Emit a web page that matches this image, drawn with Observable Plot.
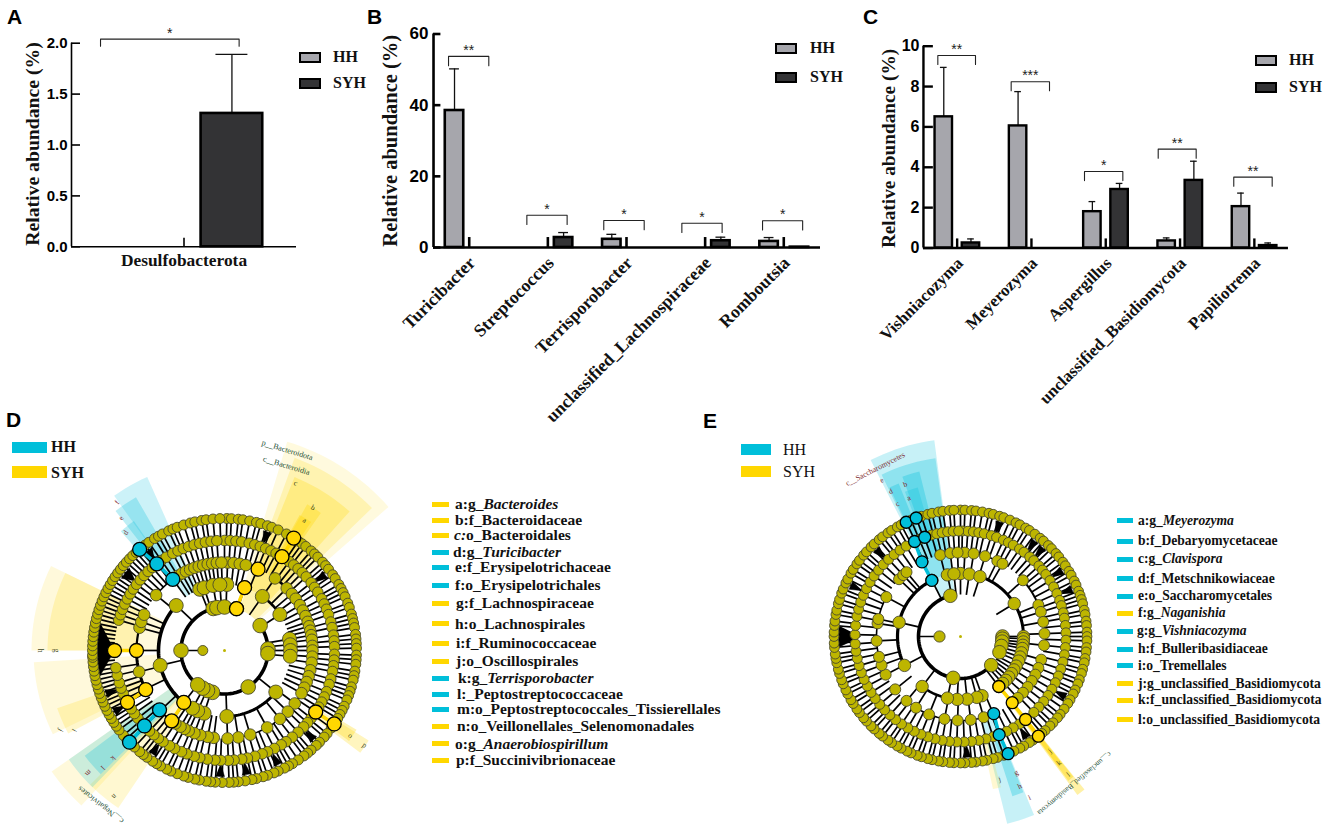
<!DOCTYPE html>
<html><head><meta charset="utf-8">
<script src="https://cdn.jsdelivr.net/npm/d3@7/dist/d3.min.js"></script>
<script src="https://cdn.jsdelivr.net/npm/@observablehq/plot@0.6/dist/plot.umd.min.js"></script>
<style>
html,body{margin:0;background:#fff}
#page{position:relative;width:1325px;height:828px;overflow:hidden;background:#fff}
#page svg{position:absolute;background:none}
.abs{position:absolute;white-space:nowrap;line-height:1}
.letter{font:bold 21px "Liberation Sans",Arial,sans-serif;color:#000}
.lg{font:bold 16px "Liberation Serif",serif;color:#111;transform:translateY(-50%)}
.sw{position:absolute;box-sizing:border-box}
.row{font:bold 15.5px "Liberation Serif",serif;color:#111;transform:translateY(-50%)}
.rowE{font:bold 13.6px "Liberation Serif",serif;color:#111;transform:translateY(-50%)}
</style></head><body><div id="page"></div>
<script>
// ---------- bar panel data ----------
const catA=["Desulfobacterota"];
const hhA=[0], hhErrA=[0], syhA=[1.31], syhErrA=[1.89];
const catB=["Turicibacter","Streptococcus","Terrisporobacter","unclassified_Lachnospiraceae","Romboutsia"];
const hhB=[38.5,0,2.3,0,1.7], hhErrB=[50.2,0,3.7,0,2.8];
const syhB=[0,2.8,0,1.9,0.1], syhErrB=[0,4.2,0,2.9,0];
const catC=["Vishniacozyma","Meyerozyma","Aspergillus","unclassified_Basidiomycota","Papiliotrema"];
const hhC=[6.5,6.05,1.8,0.35,2.05], hhErrC=[8.95,7.75,2.3,0.5,2.72];
const syhC=[0.25,0,2.9,3.35,0.12], syhErrC=[0.45,0,3.2,4.3,0.25];
const sigA=[["*",-0.371,0.245,2.04]];
const sigB=[["**",-0.263,0.249,53.7],["*",0.733,1.245,9.08],["*",1.711,2.225,7.6],["*",2.704,3.216,6.8],["*",3.73,4.24,7.5]];
const sigC=[["**",-0.26,0.247,9.54],["***",0.727,1.243,8.24],["*",1.714,2.23,3.79],["**",2.706,3.217,4.9],["**",3.723,4.24,3.51]];
const ticksA=[0,0.5,1,1.5,2], ticksB=[0,20,40,60], ticksC=[0,2,4,6,8,10];

// ---------- cladogram D data (angles in degrees clockwise from north) ----------
const ringsD=[21.7,43.5,66,88,110,132];
const d1=[270];
const d2=[16,55,88,94,147,196,203,210,218,270,345,350,360];
const d3v=[2,17.7,35,57,80,85,90,95,129,178,198,204,209,218,257,313,338,342,350,356];
const d4=[2,6,10,14,22,35,45,50,54,59,63,67,71,74,77,80,83,87,90,94,98,103,107,111,115,119,127,134,141,151,163,171,178,187,191,196,200,204,207,210,214,217,227,244,256,270,285,289,294,309,324,328,331,334,337,340,343,346,349,352,355,358];
const d5=[0,3,6,9,13,16,19,22,25,28,31.5,36,39,42,45,48,52,55,58,62,65,68,71,75,78,82,85,88,92,95,98,101,105,108,112,115,118,121,124,128,131,134,138,142,146,149,153,157,160,164,168,171,175,178,182,185,189,193,196,200,203,207,210,214,217,220,223,226.7,229,232,235,238,241.9,244,247,250,253,257,261,270,286,289,292,295,298,301,304,307,310,313,316,319,322,325,328,332,335,338,341,344,347,350,353,356];
const d6=[1,3,6,8,11,14,16,19,21,24,28,31.6,34,36,38,41,43,45,48,50,52,55,57,60,62,64,66,69,71,74,76,78,80,83,85,87,89,92,94,96,99,101,103,106,108,110,112,115,117,119,121,123.8,126,129,131,134,136,139,141,143,146,149,151,153,156,158,161,163,166,168,171,174,176,178,181,184,186,188,191,193,196,198,201,204,206,209,211,213,216,218,220,223,226,228,230,233,235,237,239,241,243,245,247,249,251,253,255,257,259,261,263,265,267,268,270,272,274,276,278,280,282,284,286,288,290,292,294,296,298,300,302,304,306,308,310,312,314,316,318,320,323,325,328,330,332,335,337,339,342,345,347,350,352,355,358];
const hhNodesD=[[6,320],[5,322],[4,324],[4,227.6],[5,226.7],[6,226]];
const syhNodesD=[[6,31.6],[5,31.5],[4,22.4],[3,17.7],[2,16],[5,270],[4,270],[4,243.6],[5,241.9],[3,218.1],[4,216.9],[6,123.8],[5,124]];
const arcsD=[[2,55,376,3.6],[3,218,313,3.6],[3,129,178,3],[3,35,57,2.6],[3,80,95,1.5],[4,35,63,2.6],[4,71,98,1.5],[4,107,127,2.6],[4,141,178,1.5],[4,244,270,3],[4,270,294,2.2],[4,217,228,2],[4,336,368,1.5],[4,309,324,1.6],[3,338,362,1.6],[2,196,210,1.5]];
const wedgesD=[[270,258,283,110,128],[308,305,311,113,126],[322,320,325,113,126],[20,18,22,113,126],[53,51,55,113,126],[250,248,252,113,126],[241,239,243,113,126],[215,213,217,113,126],[182,180,184,113,126],[170,168,172,113,126],[155,153,157,113,126],[135,133,137,113,126]];
const sectorsD=[["SYH",43.5,218,16.7,48.8,0.13],["SYH",43.5,205,20,46,0.2],["SYH",66,187,22,42,0.26],["SYH",88,168,29.5,35,0.3],["SYH",110,155,29,34,0.35],
["HH",66,190,324.5,336,0.2],["HH",88,177,322,330,0.26],["HH",110,158,319,325,0.26],
["SYH",66,193,270,296,0.14],["SYH",88,177,270,296,0.2],["SYH",66,191,244,266.5,0.14],["SYH",88,177,242,251,0.2],
["SYH",66,211,222.7,235,0.14],["SYH",66,190,214,225,0.18],["HH",66,190,224,235,0.2],["HH",88,175,225,233,0.26],
["SYH",110,170,122,127,0.25],["SYH",132,154,121,126,0.3]];
const labelsD=[["p__Bacteroidota",210,17.4,17,"#1d4f35",8],["c__Bacteroidia",195,18.5,17,"#1d4f35",8],["c",182,23,20,"#3f4a1f",7.5],["b",168,31.8,30,"#3f4a1f",7.5],["a",153,31.6,30,"#3f4a1f",7.5],
["f",183,324,-55,"#7a1f2b",7.5],["e",168,322,-55,"#7a1f2b",7.5],["d",154,320,-55,"#7a1f2b",7.5],["h",184,270,90,"#3f4a1f",7.5],["g",168,270,90,"#3f4a1f",7.5],
["j",182,244,120,"#3f4a1f",7.5],["i",170,242,120,"#3f4a1f",7.5],["c__Negativicutes",198,218.7,218,"#1d4f35",8],["n",183,217,135,"#3f4a1f",7.5],["m",183,228,135,"#7a1f2b",7.5],["l",169,226,135,"#7a1f2b",7.5],["k",155,226,135,"#7a1f2b",7.5],["o",152,124,35,"#3f4a1f",7.5],["p",169,124,35,"#3f4a1f",7.5]];
const namesD=["a:g_<i>Bacteroides</i>","b:f_Bacteroidaceae","<i>c:</i>o_Bacteroidales","d:g_<i>Turicibacter</i>","e:f_Erysipelotrichaceae","f:o_Erysipelotrichales","g:f_Lachnospiraceae","h:o_Lachnospirales","i:f_Ruminococcaceae","j:o_Oscillospirales","k:g_<i>Terrisporobacter</i>","l:_Peptostreptococcaceae","m:o_Peptostreptococcales_Tissierellales","n:o_Veillonellales_Selenomonadales","o:g_<i>Anaerobiospirillum</i>","p:f_Succinivibrionaceae"];
const groupD=["SYH","SYH","SYH","HH","HH","HH","SYH","SYH","SYH","SYH","HH","HH","HH","SYH","SYH","SYH"];
const rowYD=[504,520,535,552,567.3,585.3,603.3,623.7,643.3,661.3,678.3,694.3,709.3,726,743.7,760];
const rowXD=[455,455,454,453,455,455,456,455,456,456,458,457,457,457,455,456];

// ---------- cladogram E data ----------
const ringsE=[21,42,63,84,105.5,126.5];
const e1=[270];
const e2=[90,93,97,103,112,133,190,346];
const e3=[0,8,18,58.5,90,92,95,98,101,105,109,113,118,122,126,130,134,138,142.5,160,165,174,183,192,217.5,242.7,283,333,348,354];
const e4=[3,9,17,26,30,48,68,73,80,88,96,106,112,117,122,127,132,137,142,157,164,173,182,191,202,212,220,231,243,250,256,267,279,282,298,313,317,320,333,346,353,358];
const e5=[1,4,7,10,13,17,20,24,27,30,34,37,41,44,48,51,54,58,62,66,70,73,77,80,84,88,92,96,100,104,108,112,116,120,124,128,132,136,142,146,150,154,158.5,162,166,170,174,178,182,186,190,194,198,202,206,210,214,218,222,226,230,234,238,242,246,250,254,258,262,266,271,276,281,285,289,293,297,301,305,309,313,317,321,325,329,334,337,340,344,347,350,353,356,359];
const e6=[0,2,5,7,10,13,15,18,20,23,26,28,31,33,36,39,41,44,46,49,51,54,56,59,61,64,66,69,71,73,75,78,80,83,85,88,90,92,95,97,100,102,105,107,110,112,115,117,120,122,125,128,130,133,135,138,140,142,145,147,150,152,155,158,160,163,165,168,170,173,175,178,180,183,185,188,190,193,195,198,200,203,205,208,210,213,215,218,220,223,225,228,230,233,235,238,240,243,245,248,250,253,255,258,260,262,265,267,270,272,275,277,280,282,285,287,290,292,295,297,300,302,305,307,310,312,315,317,320,322,325,327,330,332,334.6,337,339.5,342,345,347,350,352,355,357];
const hhNodesE=[[3,332.9],[4,332.7],[5,334.2],[5,340.2],[6,334.6],[6,339.5],[4,156.7],[5,158.5],[6,157.9]];
const syhNodesE=[[3,142.5],[4,142],[5,141.9],[6,142]];
const arcsE=[[2,133,346,3.6],[3,242.7,333,3.2],[3,160,217.5,2.6],[3,18,88,3],[3,348,378,1.6],[4,243,298,1.6],[4,164,220,1.6],[4,47,68,2],[4,346,390,1.6],[4,313,320,1.5]];
const wedgesE=[[270,265,275,100,122],[295,293,297,108,121],[316,314,318,108,121],[177,175,179,108,121],[43,41,45,108,121],[57,55,59,108,121],[67,65,69,108,121],[120,118,122,108,121],[147,145,149,108,121],[19,17,21,108,121],[38,36,40,108,121]];
const sectorsE=[["HH",42,198,333,352.4,0.22],["HH",63,180,334,352,0.28],["HH",105,165,334.5,338,0.3],["HH",84,170,340,346,0.3],["HH",105,155,339,344,0.25],
["HH",84,193,157.6,166,0.22],["HH",105,168,158,162,0.3],["SYH",105,156,165,168,0.18],
["SYH",63,197,141,143.6,0.35],["SYH",84,180,141.2,143.2,0.4],["SYH",105,163,141.4,143,0.4]];
const labelsE=[["c__Saccharomycetes",188,333,-27,"#7a1f2b",7.8],["e",175,333.3,-25,"#7a1f2b",7.5],["d",161,334.3,-25,"#7a1f2b",7.5],["c",147,334.5,-25,"#7a1f2b",7.5],["b",162,340,-20,"#7a1f2b",7.5],["a",148,339.5,-20,"#7a1f2b",7.5],
["g",147,157.7,-25,"#7a1f2b",7.5],["h",161,158.4,-25,"#7a1f2b",7.5],["i",175,156.8,-25,"#7a1f2b",7.5],["j",148,164.7,-15,"#3f4a1f",7.5],["j",145,142,-40,"#3f4a1f",7.5],["k",160,142,-40,"#3f4a1f",7.5],["l",175,142,-40,"#3f4a1f",7.5],["c__unclassified_Basidiomycota",186,142.2,140,"#1d4f35",7.4]];
const namesE=["a:g_<i>Meyerozyma</i>","b:f_Debaryomycetaceae","c:g_<i>Clavispora</i>","d:f_Metschnikowiaceae","e:o_Saccharomycetales","f:g_<i>Naganishia</i>","g:g_<i>Vishniacozyma</i>","h:f_Bulleribasidiaceae","i:o_Tremellales","j:g_unclassified_Basidiomycota","k:f_unclassified_Basidiomycota","l:o_unclassified_Basidiomycota"];
const groupE=["HH","HH","HH","HH","HH","SYH","HH","HH","HH","SYH","SYH","SYH"];
const rowYE=[520.7,541,559.3,578.7,596,613.3,631,649,665.7,683.7,700,719.7];
const rowXE=[1138,1138,1138,1138,1138,1138,1137,1138,1138,1138,1138,1138];

// ---------- drawing ----------
const page=document.getElementById("page");
const CY="#00BFDA", YE="#FFD700", OL="#BDB500";
const SERIF="'Liberation Serif',serif", SANS="'Liberation Sans',sans-serif";
const seq=n=>Array.from({length:n},(_,i)=>i);
function place(el,l,t){el.style.left=l+"px";el.style.top=t+"px";page.appendChild(el);}
function html(cls,l,t,s){const e=document.createElement("div");e.className="abs "+cls;e.innerHTML=s;place(e,l,t);return e;}
function swatch(l,t,w,h,fill,border){const e=document.createElement("div");e.className="sw";e.style.cssText=`width:${w}px;height:${h}px;background:${fill};`+(border?`border:${border}px solid #000;`:"");place(e,l,t);}

function barPanel(o){
  const n=o.cat.length, idx=seq(n);
  const hhOff=o.hhOff, syOff=o.syOff, bw=o.bw/2, cap=o.cap/2;
  const bars=[];
  idx.forEach(i=>{
    if(o.hh[i]>0)bars.push({x:i+hhOff,v:o.hh[i],e:o.hhE[i],c:"#a6a6ac"});
    if(o.sy[i]>0)bars.push({x:i+syOff,v:o.sy[i],e:o.syE[i],c:"#333335"});
  });
  const ax=o.axis, y0=o.yDomain[0], ym=o.yDomain[1];
  const brk=[];o.sig.forEach((s,i)=>{brk.push({id:i,x:s[1],y:s[3]-o.tip},{id:i,x:s[1],y:s[3]},{id:i,x:s[2],y:s[3]},{id:i,x:s[2],y:s[3]-o.tip});});
  const withErr=bars.filter(d=>d.e>0);
  const svg=Plot.plot({
    width:o.boxW,height:o.boxH,style:{background:"none",overflow:"visible"},
    x:{domain:o.xDomain,range:o.xRange.map(v=>v-o.left),axis:null},
    y:{domain:o.yDomain,range:o.yRange,axis:null},
    color:{type:"identity"},
    marks:[
      Plot.ruleX(withErr,{x:"x",y1:"v",y2:"e",stroke:"#111",strokeWidth:1.3}),
      Plot.ruleY(withErr,{y:"e",x1:d=>d.x-cap,x2:d=>d.x+cap,stroke:"#111",strokeWidth:1.3}),
      Plot.rect(bars,{x1:d=>d.x-bw,x2:d=>d.x+bw,y1:0,y2:"v",fill:"c",stroke:"#000",strokeWidth:o.sw}),
      Plot.ruleX(idx,{x:d=>d,y1:0,y2:o.tick,stroke:"#000",strokeWidth:o.tw}),
      Plot.ruleY([y0],{x1:ax[0],x2:ax[1],stroke:"#000",strokeWidth:o.aw}),
      Plot.ruleX([ax[0]],{y1:y0,y2:ym,stroke:"#000",strokeWidth:o.aw}),
      Plot.ruleY(o.ticks,{x1:ax[0],x2:o.ytick,stroke:"#000",strokeWidth:o.aw}),
      Plot.text(o.ticks,{x:ax[0],y:d=>d,dx:-o.pad,textAnchor:"end",text:o.fmt,fontFamily:SANS,fontWeight:"bold",fontSize:o.tfs,fill:"#000"}),
      Plot.text(["Relative abundance (%)"],{x:ax[0],y:o.ylabY,dx:o.ylabDx,rotate:-90,fontFamily:SERIF,fontWeight:"bold",fontSize:o.ylfs,fill:"#111"}),
      Plot.line(brk,{x:"x",y:"y",z:"id",stroke:"#222",strokeWidth:1.1}),
      Plot.text(o.sig,{x:d=>(d[1]+d[2])/2,y:d=>d[3],dy:-6,text:d=>d[0],fontFamily:SANS,fontSize:14,fill:"#222"}),
      o.rot?Plot.text(idx,{x:d=>d,y:y0,text:d=>o.cat[d],rotate:-45,textAnchor:"end",dx:3,dy:12.5,fontFamily:SERIF,fontWeight:"bold",fontSize:o.xfs,fill:"#111"})
           :Plot.text(idx,{x:d=>d,y:y0,text:d=>o.cat[d],dy:14,fontFamily:SERIF,fontWeight:"bold",fontSize:o.xfs,fill:"#111"})
    ]});
  place(svg,o.left,0);
}
barPanel({cat:catA,hh:hhA,hhE:hhErrA,sy:syhA,syE:syhErrA,sig:sigA,ticks:ticksA,fmt:d=>d.toFixed(1),left:0,boxW:340,boxH:300,
  xDomain:[-.5,.5],xRange:[71,296],yDomain:[0,2],yRange:[246.3,42.7],axis:[-.5,.5],ytick:-.46,hhOff:-.2,syOff:.213,bw:.274,cap:.142,tip:.07,tick:.085,sw:2.6,tw:1.6,aw:1.6,pad:4,tfs:15,ylfs:19.7,ylabY:1.01,ylabDx:-39,xfs:17.4,rot:false});
barPanel({cat:catB,hh:hhB,hhE:hhErrB,sy:syhB,syE:syhErrB,sig:sigB,ticks:ticksB,fmt:d=>String(d),left:360,boxW:475,boxH:420,
  xDomain:[-.5,4.5],xRange:[429.4,822.6],yDomain:[0,60],yRange:[247,33.5],axis:[-.454,4.467],ytick:-.36,hhOff:-.187,syOff:.2,bw:.235,cap:.125,tip:2.6,tick:2.8,sw:2.6,tw:2.6,aw:2.6,pad:5,tfs:17,ylfs:20.5,ylabY:30,ylabDx:-43,xfs:17.7,rot:true});
barPanel({cat:catC,hh:hhC,hhE:hhErrC,sy:syhC,syE:syhErrC,sig:sigC,ticks:ticksC,fmt:d=>String(d),left:855,boxW:470,boxH:420,
  xDomain:[-.5,4.5],xRange:[919.5,1291],yDomain:[0,10],yRange:[247.5,45.7],axis:[-.4536,4.459],ytick:-.32,hhOff:-.18,syOff:.186,bw:.235,cap:.09,tip:.45,tick:.45,sw:2.4,tw:2.4,aw:2.4,pad:4,tfs:16,ylfs:19.3,ylabY:4.93,ylabDx:-35,xfs:16.9,rot:true});

function legendBars(x,tx,rows){
  [["HH","#a6a6ac"],["SYH","#333335"]].forEach((s,i)=>{
    swatch(x,rows[i]-5,22,11,s[1],2.4);
    html("lg",tx,rows[i],s[0]);
  });
}
legendBars(299,333,[57,83]);legendBars(775,810,[48,77]);legendBars(1255,1289,[60,87]);

const pol=(r,a)=>({x:r*Math.sin(a*Math.PI/180),y:-r*Math.cos(a*Math.PI/180)});
function arcPts(r,a0,a1){const n=Math.max(2,Math.ceil(Math.abs(a1-a0)/2));return seq(n+1).map(i=>pol(r,a0+(a1-a0)*i/n));}
function clade(c){
  const R=c.rings, marks=[];
  c.sectors.forEach(s=>{
    const pts=[...arcPts(s[2],s[3],s[4]),...arcPts(s[1],s[4],s[3])];
    marks.push(Plot.line(pts,{x:"x",y:"y",fill:s[0]=="HH"?CY:YE,fillOpacity:s[5],stroke:"none"}));
  });
  const spokes=[];
  c.nodes.forEach((lst,k)=>{ if(k>=2) lst.forEach(a=>{spokes.push({a:pol(R[k],a),b:pol(R[k-1],a)});}); });
  marks.push(Plot.link(spokes,{x1:d=>d.a.x,y1:d=>d.a.y,x2:d=>d.b.x,y2:d=>d.b.y,stroke:"#000",strokeWidth:1.7}));
  marks.push(Plot.link([c.phylumLink],{x1:d=>pol(R[0],d).x,y1:d=>pol(R[0],d).y,x2:d=>pol(R[1],d).x,y2:d=>pol(R[1],d).y,stroke:"#000",strokeWidth:1.5}));
  c.wedges.forEach(w=>{
    const pts=[pol(w[3],w[0]),...arcPts(w[4],w[1],w[2])];
    marks.push(Plot.line(pts,{x:"x",y:"y",fill:"#000",stroke:"#000",strokeWidth:.5}));
  });
  c.arcs.forEach(a=>{marks.push(Plot.line(arcPts(R[a[0]-1],a[1],a[2]),{x:"x",y:"y",stroke:"#000",strokeWidth:a[3]}));});
  const rad=c.radii, st={stroke:"#4a4a2a",strokeWidth:.9,fill:OL};
  [5,4,3,2,1,0].forEach(k=>{
    marks.push(Plot.dot(c.nodes[k],{x:a=>pol(R[k],a).x,y:a=>pol(R[k],a).y,r:rad[k],...st}));
  });
  marks.push(Plot.dot([0],{x:()=>0,y:()=>0,r:1.5,fill:OL,stroke:"none"}));
  const thick=(lst,col)=>{for(let i=1;i<lst.length;i++){const p=lst[i-1],q=lst[i];if(Math.abs(p[0]-q[0])==1&&Math.abs(p[1]-q[1])<3){marks.push(Plot.link([[p,q]],{x1:d=>pol(R[d[0][0]-1],d[0][1]).x,y1:d=>pol(R[d[0][0]-1],d[0][1]).y,x2:d=>pol(R[d[1][0]-1],d[1][1]).x,y2:d=>pol(R[d[1][0]-1],d[1][1]).y,stroke:col,strokeWidth:3.5}));}}};
  thick(c.hh,CY);thick(c.syh,YE);
  marks.push(Plot.dot(c.syh,{x:d=>pol(R[d[0]-1],d[1]).x,y:d=>pol(R[d[0]-1],d[1]).y,r:c.hl,fill:YE,stroke:"#000",strokeWidth:1.3}));
  marks.push(Plot.dot(c.hh,{x:d=>pol(R[d[0]-1],d[1]).x,y:d=>pol(R[d[0]-1],d[1]).y,r:c.hl,fill:CY,stroke:"#000",strokeWidth:1.3}));
  c.labels.forEach(l=>{marks.push(Plot.text([l],{x:d=>pol(d[1],d[2]).x,y:d=>pol(d[1],d[2]).y,text:d=>d[0],rotate:l[3],fill:l[4],fontSize:l[5],fontFamily:SERIF}));});
  const svg=Plot.plot({width:c.w,height:c.h,style:{background:"none",overflow:"visible"},
    x:{domain:[-c.cx,c.w-c.cx],range:[0,c.w],axis:null},
    y:{domain:[-c.cy,c.h-c.cy],range:[0,c.h],axis:null},
    marks});
  place(svg,c.left,c.top);
}
clade({left:0,top:400,w:400,h:428,cx:224,cy:250,rings:ringsD,nodes:[d1,d2,d3v,d4,d5,d6],radii:[5,7.3,7,5.8,5.3,5],hl:7,hh:hhNodesD,syh:syhNodesD,arcs:arcsD,wedges:wedgesD,sectors:sectorsD,labels:labelsD,phylumLink:270});
clade({left:690,top:400,w:400,h:428,cx:270,cy:236,rings:ringsE,nodes:[e1,e2,e3,e4,e5,e6],radii:[5.6,6.8,6.2,5.5,5,4.9],hl:6,hh:hhNodesE,syh:syhNodesE,arcs:arcsE,wedges:wedgesE,sectors:sectorsE,labels:labelsE,phylumLink:270});

[["A",7,5],["B",367,5],["C",863,5],["D",6,408],["E",703,409]].forEach(l=>html("letter",l[1],l[2],l[0]));
swatch(12,442,35,11,CY);html("lg",51,447,"HH");
swatch(12,466,35,12,YE);html("lg",51,473,"SYH");
swatch(741,444,30,11,CY);html("lg",783,450,"HH").style.fontWeight="normal";
swatch(741,466,30,11,YE);html("lg",783,472,"SYH").style.fontWeight="normal";
namesD.forEach((s,i)=>{swatch(432,rowYD[i]-2.5,17,5,groupD[i]=="HH"?CY:YE);html("row",rowXD[i],rowYD[i],s);});
namesE.forEach((s,i)=>{swatch(1117,rowYE[i]-2.5,16,5,groupE[i]=="HH"?CY:YE);html("rowE",rowXE[i],rowYE[i],s);});
</script></body></html>
